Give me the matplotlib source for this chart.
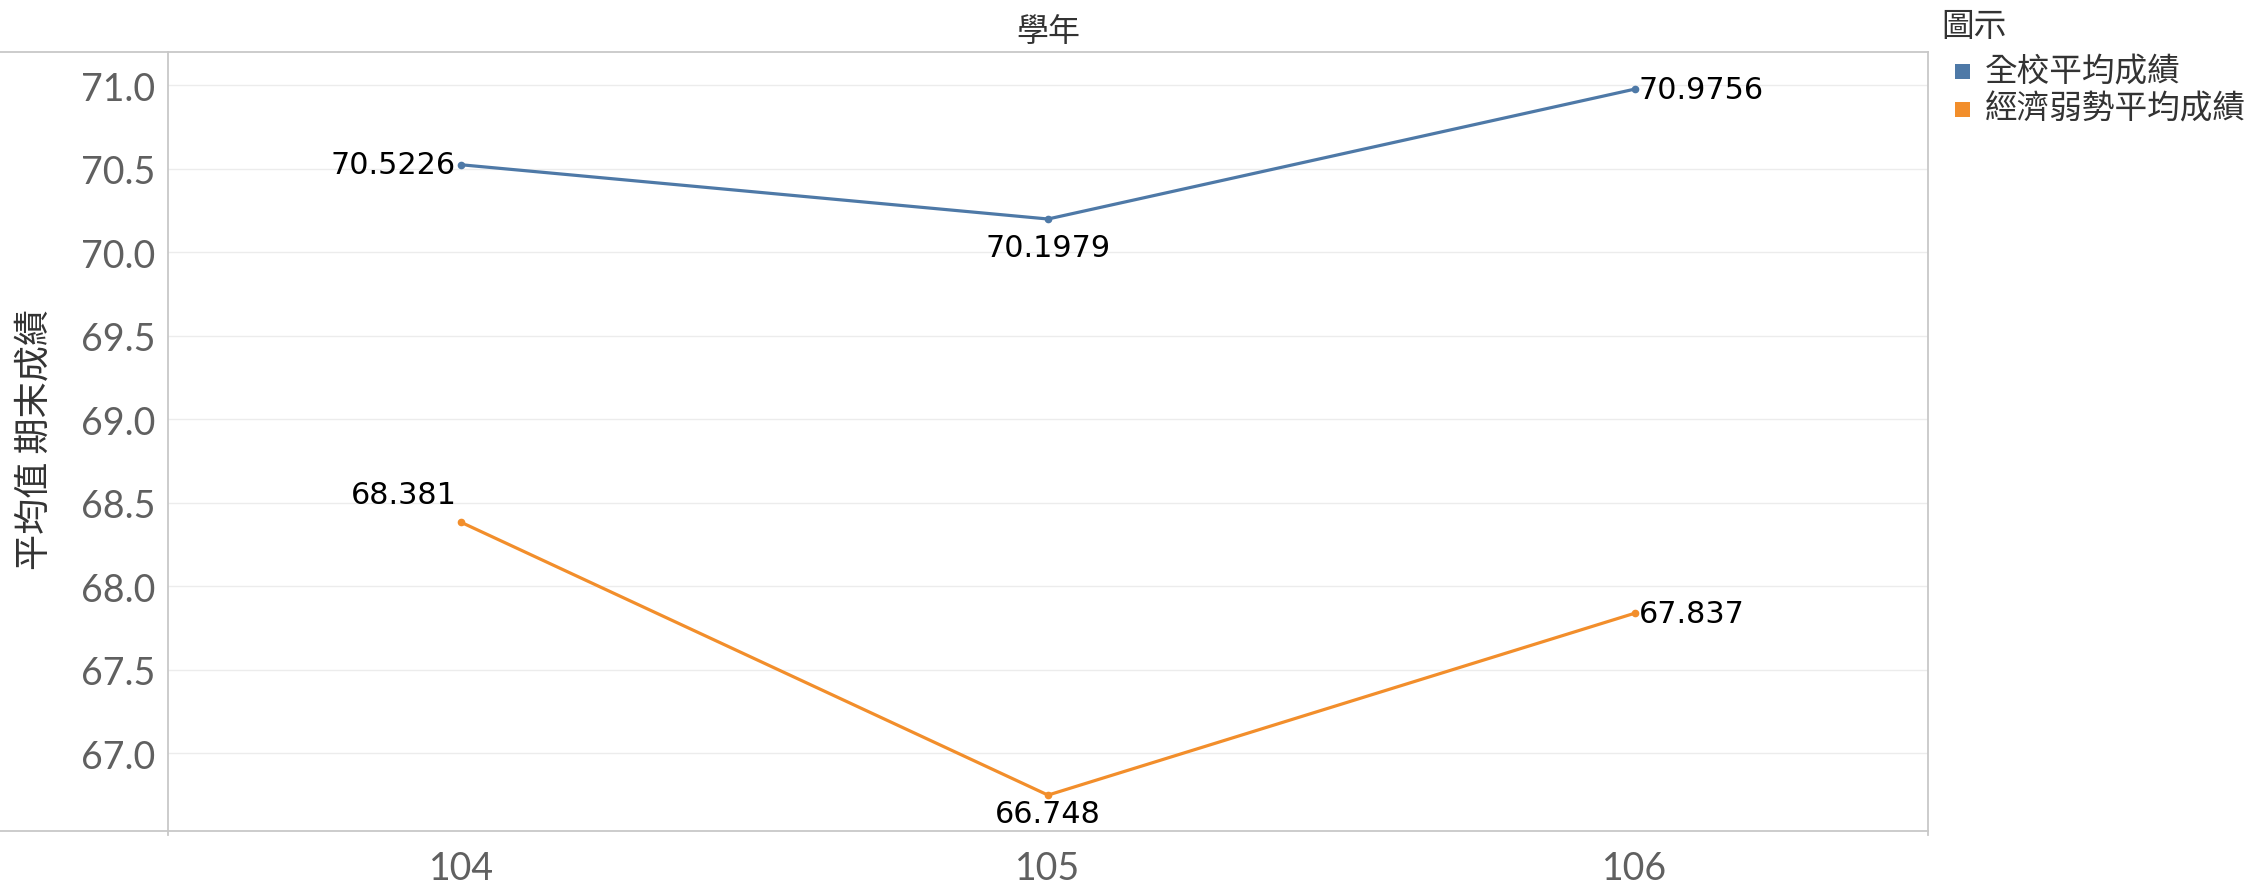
import matplotlib
matplotlib.use("Agg")
import matplotlib.pyplot as plt
from matplotlib.lines import Line2D
from matplotlib.patches import Rectangle

# Data
years = ["104", "105", "106"]
school_avg = [70.5226, 70.1979, 70.9756]
disadv_avg = [68.381, 66.748, 67.837]
school_labels = ["70.5226", "70.1979", "70.9756"]
disadv_labels = ["68.381", "66.748", "67.837"]
series_names = ["全校平均成績", "經濟弱勢平均成績"]
y_ticks = [67.0, 67.5, 68.0, 68.5, 69.0, 69.5, 70.0, 70.5, 71.0]

BLUE = "#4e79a7"
ORANGE = "#f28e2b"
CJK = ["Noto Sans CJK TC", "DejaVu Sans"]

W, H = 2256, 895
fig = plt.figure(figsize=(W / 100, H / 100), dpi=100)

ax_l, ax_r, ax_t, ax_b = 168, 1928, 53, 832
ax = fig.add_axes([ax_l / W, 1 - ax_b / H, (ax_r - ax_l) / W, (ax_b - ax_t) / H])

x = list(range(len(years)))
ax.plot(x, school_avg, color=BLUE, lw=2.3, marker="o", ms=4.5, zorder=3)
ax.plot(x, disadv_avg, color=ORANGE, lw=2.3, marker="o", ms=4.5, zorder=3)

ax.set_xlim(-0.5, 2.5)
ax.set_ylim(66.533, 71.198)
ax.set_yticks(y_ticks)
ax.set_yticklabels([f"{v:.1f}" for v in y_ticks])
ax.set_xticks(x)
ax.set_xticklabels(years)
ax.grid(axis="y", color="#ececec", lw=1.0, zorder=0)
ax.grid(axis="x", visible=False)
for s in ax.spines.values():
    s.set_visible(False)
ax.tick_params(length=0, labelsize=27, labelcolor="#606060")
ax.tick_params(axis="y", pad=9)
ax.tick_params(axis="x", pad=14)
for lbl in ax.get_xticklabels() + ax.get_yticklabels():
    lbl.set_fontfamily("Lato")

# Value labels: (dx, dy) in points, alignment
label_fmt = dict(fontsize=21.8, color="black", family="DejaVu Sans",
                 textcoords="offset points", zorder=4)
school_pos = [((-4, 0), "right", "center"),
              ((0, -10), "center", "top"),
              ((3, 0), "left", "center")]
disadv_pos = [((-3, 10), "right", "bottom"),
              ((0, -3), "center", "top"),
              ((3, 0), "left", "center")]
for xi, v, t, (off, ha, va) in zip(x, school_avg, school_labels, school_pos):
    ax.annotate(t, (xi, v), xytext=off, ha=ha, va=va, **label_fmt)
for xi, v, t, (off, ha, va) in zip(x, disadv_avg, disadv_labels, disadv_pos):
    ax.annotate(t, (xi, v), xytext=off, ha=ha, va=va, **label_fmt)

# Frame lines in figure pixels
def fig_line(x0, y0, x1, y1):
    fig.add_artist(Line2D([x0 / W, x1 / W], [1 - y0 / H, 1 - y1 / H],
                          color="#c8c8c8", lw=1.3, transform=fig.transFigure))

fig_line(0, ax_t, ax_r, ax_t)
fig_line(0, ax_b, ax_r, ax_b)
fig_line(ax_l, ax_t, ax_l, ax_b + 4)
fig_line(ax_r, ax_t, ax_r, ax_b + 4)

# Titles
fig.text(1048 / W, 1 - 32 / H, "學年", ha="center", va="center",
         fontsize=23, color="#333333", family=CJK)
fig.text(35 / W, 1 - 440 / H, "平均值 期末成績", ha="center", va="center",
         rotation=90, fontsize=26, color="#333333", family=CJK)

# Legend
fig.text(1941 / W, 1 - 27 / H, "圖示", ha="left", va="center",
         fontsize=23.5, color="#333333", family=CJK)
for i, (name, col) in enumerate(zip(series_names, [BLUE, ORANGE])):
    yc = 72 + i * 38
    fig.add_artist(Rectangle((1955 / W, 1 - (yc + 7.5) / H), 15 / W, 15 / H,
                             facecolor=col, edgecolor="none",
                             transform=fig.transFigure))
    fig.text(1985 / W, 1 - yc / H, name, ha="left", va="center",
             fontsize=23.5, color="#333333", family=CJK)

fig.savefig("out.png", dpi=100, facecolor="white")
